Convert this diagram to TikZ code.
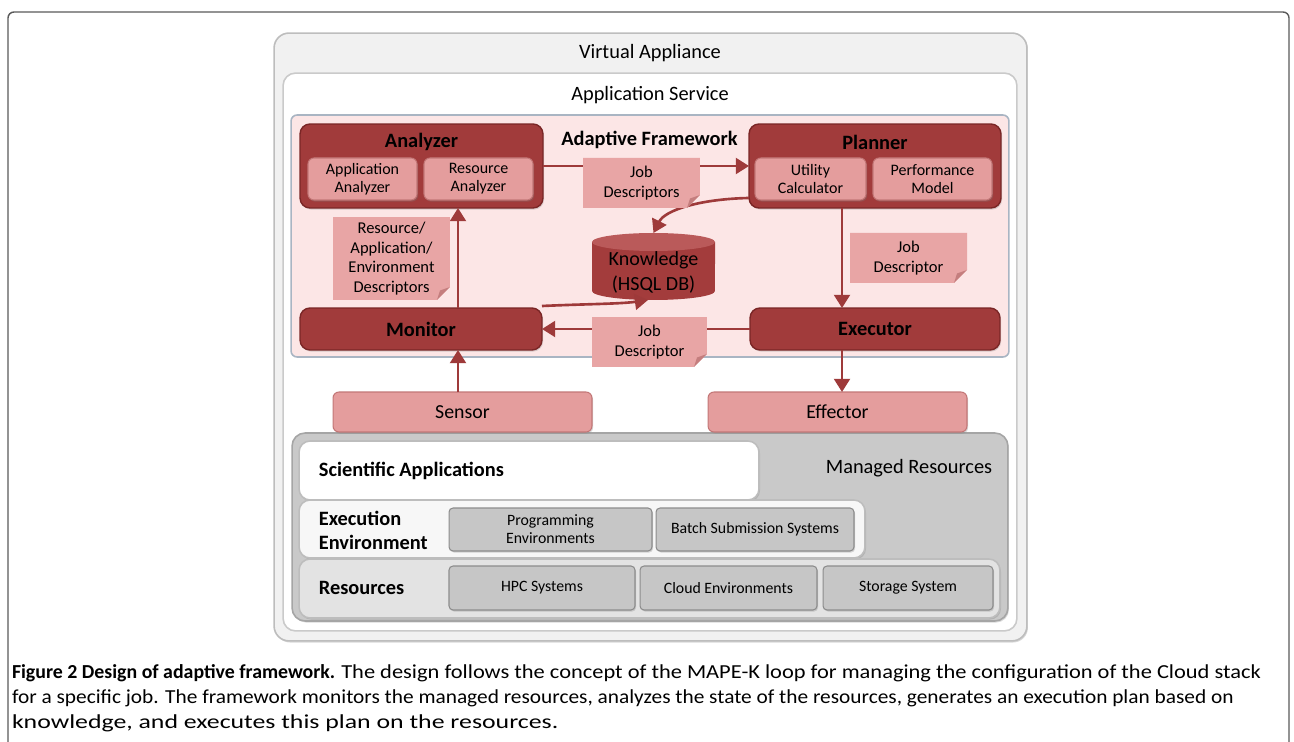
\documentclass[tikz,border=0pt]{standalone}
\usepackage{fontspec}
\setmainfont{Carlito}
\usetikzlibrary{arrows.meta,shadows,calc}
\definecolor{dred}{HTML}{A13B3B}
\definecolor{dredb}{HTML}{7A2626}
\definecolor{pinkbox}{HTML}{E49D9D}
\definecolor{pinkb}{HTML}{C37777}
\definecolor{notec}{HTML}{E8A5A5}
\definecolor{foldc}{HTML}{C47E7E}
\definecolor{afbg}{HTML}{FCE6E6}
\definecolor{afb}{HTML}{A9B5C3}
\definecolor{arrc}{HTML}{9E3A3A}
\definecolor{mgray}{HTML}{C9C9C9}
\definecolor{mgrayb}{HTML}{A5A5A5}
\definecolor{sgray}{HTML}{C6C6C6}
\definecolor{sgrayb}{HTML}{8C8C8C}
\definecolor{vabg}{HTML}{F1F1F1}
\definecolor{vab}{HTML}{BDBDBD}
\definecolor{kbody}{HTML}{A33C3C}
\definecolor{ktop}{HTML}{BA5A5A}
\definecolor{framec}{HTML}{5A5A5A}
\tikzset{
  shd/.style={drop shadow={opacity=0.3,shadow xshift=0.6pt,shadow yshift=-0.9pt}},
  bigf/.style={font=\fontsize{11.6}{13.5}\selectfont},
  bigb/.style={font=\fontsize{11.6}{13.5}\selectfont\bfseries},
  layer/.style={rounded corners=0.3cm, line width=0.9pt, inner sep=0pt},
  redbox/.style={draw=dredb, line width=0.8pt, fill=dred, rounded corners=0.2cm, inner sep=0pt, shd},
  subbox/.style={draw=pinkb, line width=0.6pt, fill=pinkbox, rounded corners=0.12cm, align=center, inner sep=0pt,
     font=\fontsize{9.1}{10.3}\selectfont, shd},
  pinkwide/.style={draw=pinkb, line width=0.6pt, fill=pinkbox, rounded corners=0.12cm, inner sep=0pt,
     font=\fontsize{11.3}{13}\selectfont, shd},
  graysub/.style={draw=sgrayb, line width=0.6pt, fill=sgray, rounded corners=0.08cm, align=center, inner sep=0pt,
     font=\fontsize{9}{10.3}\selectfont, shd},
  notebox/.style={align=center, inner sep=0pt, font=\fontsize{9.4}{11.1}\selectfont,
     path picture={
       \fill[notec] (path picture bounding box.north west) -- (path picture bounding box.north east)
         -- ([yshift=0.26cm]path picture bounding box.south east) -- ([xshift=-0.26cm]path picture bounding box.south east)
         -- (path picture bounding box.south west) -- cycle;
       \fill[foldc] ([yshift=0.26cm]path picture bounding box.south east) -- ([xshift=-0.26cm]path picture bounding box.south east)
         -- ([xshift=-0.2cm,yshift=0.19cm]path picture bounding box.south east) -- cycle;
     }},
  arr/.style={draw=arrc, line width=1.5pt, -{Triangle[length=7.5pt,width=9pt]}},
  captxt/.style={font=\fontsize{11.3}{14.8}\selectfont, inner sep=0pt, anchor=base west},
}
\begin{document}
\begin{tikzpicture}[x=0.02cm,y=-0.02cm, every node/.append style={outer sep=0pt}]
\useasboundingbox (0,0) rectangle (1294,742);
\fill[white] (0,0) rectangle (1294,742);
% figure frame
\draw[framec, line width=0.8pt, rounded corners=0.12cm] (8,742) -- (8,12) -- (1289,12) -- (1289,742);

% layers
\node[layer, draw=vab, fill=vabg, shd, minimum width=15.06cm, minimum height=12.16cm] (va) at (650.5,337) {};
\node[bigf] (vat) at (650,53) {Virtual Appliance};
\node[layer, draw=vab!80, fill=white, rounded corners=0.25cm, minimum width=14.68cm, minimum height=11.16cm] (as) at (650,352) {};
\node[bigf] (ast) at (650,95) {Application Service};
\node[draw=afb, line width=0.9pt, fill=afbg, rounded corners=0.12cm, inner sep=0pt, minimum width=14.36cm, minimum height=4.84cm] (af) at (650,236) {};
\node[bigb] (aft) at (649.5,140) {Adaptive Framework};

% managed resources
\node[layer, draw=mgrayb, fill=mgray, rounded corners=0.26cm, shd, minimum width=14.32cm, minimum height=3.76cm] (mr) at (650,527) {};
\node[bigf] (mrt) at (909,468) {Managed Resources};
\node[layer, draw=vab, fill=white, rounded corners=0.22cm, shd, minimum width=9.2cm, minimum height=1.18cm] (sci) at (529,470.5) {};
\node[bigb, anchor=west] (scit) at (313,471) {Scientific Applications};
\node[layer, draw=vab, fill=white!97!black, rounded corners=0.22cm, shd, minimum width=11.32cm, minimum height=1.16cm] (exe) at (582,529) {};
\node[font=\fontsize{11.6}{13.7}\selectfont\bfseries, align=left, anchor=west] (exet) at (313,530) {Execution\\Environment};
\node[layer, draw=vab, fill=black!11, rounded corners=0.22cm, shd, minimum width=14.02cm, minimum height=1.18cm] (res) at (649.5,588.5) {};
\node[bigb, anchor=west] (rest) at (313,588) {Resources};
\node[graysub, minimum width=4.06cm, minimum height=0.86cm] (prog) at (550.5,529.5) {Programming\\Environments};
\node[graysub, minimum width=3.96cm, minimum height=0.86cm] (batch) at (755,529.5) {Batch Submission Systems};
\node[graysub, minimum width=3.72cm, minimum height=0.88cm] (hpc) at (542,588) {HPC Systems};
\node[graysub, minimum width=3.54cm, minimum height=0.88cm] (cloud) at (728.5,588) {Cloud Environments};
\node[graysub, minimum width=3.40cm, minimum height=0.88cm] (stor) at (908,588) {Storage System};

% MAPE boxes
\node[redbox, minimum width=4.86cm, minimum height=1.68cm] (analyzer) at (421.5,166) {};
\node[bigb] (anat) at (421.5,142) {Analyzer};
\node[subbox, minimum width=2.18cm, minimum height=0.84cm] (appan) at (362.5,179) {Application\\Analyzer};
\node[subbox, minimum width=2.18cm, minimum height=0.84cm] (resan) at (478.5,179) {Resource\\Analyzer};
\node[redbox, minimum width=5.04cm, minimum height=1.68cm] (planner) at (875,166) {};
\node[bigb] (plat) at (875,142) {Planner};
\node[subbox, minimum width=2.22cm, minimum height=0.84cm] (utilc) at (810.5,179) {Utility\\Calculator};
\node[subbox, minimum width=2.38cm, minimum height=0.84cm] (perfm) at (932.5,179) {Performance\\Model};
\node[redbox, bigb, minimum width=4.84cm, minimum height=0.84cm] (monitor) at (421,329) {Monitor};
\node[redbox, bigb, minimum width=5.0cm, minimum height=0.84cm] (executor) at (875,329) {Executor};

% knowledge cylinder
\fill[kbody] (592,242) -- (592,291) arc[start angle=180,end angle=360,x radius=1.23cm,y radius=0.18cm] -- (715,242) -- cycle;
\fill[ktop] (653.5,242) ellipse[x radius=1.23cm, y radius=0.18cm];
\node[font=\fontsize{11.4}{14.2}\selectfont, align=center, inner sep=0pt, minimum width=2.46cm, minimum height=1.34cm] (know) at (653.5,272) {Knowledge\\(HSQL DB)};
\coordinate (kntop) at (653.5,233);
\coordinate (knbot) at (648,300);

% sensor / effector
\node[pinkwide, minimum width=5.18cm, minimum height=0.8cm] (sensor) at (462.5,412) {Sensor};
\node[pinkwide, minimum width=5.18cm, minimum height=0.8cm] (effector) at (837.5,412) {Effector};

% connectors
\coordinate (cl) at (458,380);
\coordinate (cr) at (842,380);
\draw[arr] (analyzer.east) -- (planner.west);
\draw[arr] (cl |- monitor.north) -- (cl |- analyzer.south);
\draw[arr] (cl |- sensor.north) -- (cl |- monitor.south);
\draw[arr] (cr |- planner.south) -- (cr |- executor.north);
\draw[arr] (cr |- executor.south) -- (cr |- effector.north);
\draw[arr] (executor.west) -- (monitor.east);
\draw[arr] ([yshift=0.2cm]planner.south west) .. controls (700,199) and (665,210) .. (kntop);
\draw[arr] ([yshift=0.04cm]monitor.north east) .. controls (585,304) and (620,304) .. (knbot);

% notes
\node[notebox, minimum width=2.34cm, minimum height=1.0cm] (jds) at (641.5,183) {Job\\Descriptors};
\node[notebox, minimum width=2.34cm, minimum height=1.66cm] (rad) at (391.5,258.5) {Resource/\\Application/\\Environment\\Descriptors};
\node[notebox, minimum width=2.34cm, minimum height=1.0cm] (jd1) at (908.5,258) {Job\\Descriptor};
\node[notebox, minimum width=2.30cm, minimum height=1.0cm] (jd2) at (649.5,342) {Job\\Descriptor};

% caption
\node[captxt] (cap1) at (12,678) {\textbf{Figure 2 Design of adaptive framework.} \scalebox{1.13}[1]{The design follows the concept of the MAPE-K loop for managing the configuration of the Cloud stack}};
\node[captxt] (cap2) at (12,703) {\scalebox{1.075}[1]{for a specific job. The framework monitors the managed resources, analyzes the state of the resources, generates an execution plan based on}};
\node[captxt] (cap3) at (12,728) {\scalebox{1.3}[1]{knowledge, and executes this plan on the resources.}};
\end{tikzpicture}
\end{document}
